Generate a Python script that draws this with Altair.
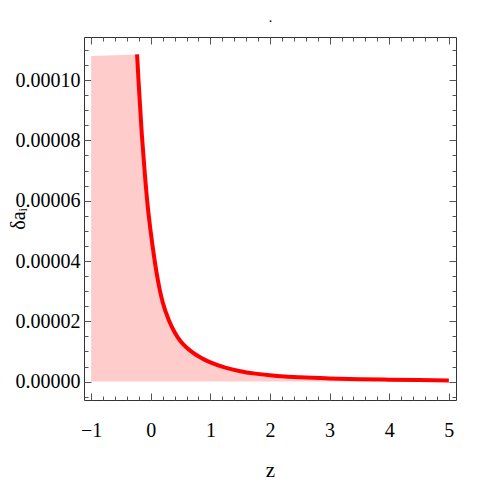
import altair as alt
import pandas as pd

# ---- data ----
z_curve = [-0.23, -0.2, -0.15, -0.1, -0.05, 0.0, 0.05, 0.1, 0.15, 0.2, 0.3, 0.4, 0.5,
           0.6, 0.7, 0.8, 0.9, 1.0, 1.25, 1.5, 1.75, 2.0, 2.25, 2.5, 3.0, 3.5, 4.0,
           4.5, 5.0]
da_curve = [108.5e-6, 98e-6, 82e-6, 69e-6, 58e-6, 49.5e-6, 42.2e-6, 35.8e-6, 30.5e-6,
            26.3e-6, 20.5e-6, 16.4e-6, 13.4e-6, 11.3e-6, 9.7e-6, 8.4e-6, 7.3e-6,
            6.4e-6, 4.65e-6, 3.45e-6, 2.65e-6, 2.08e-6, 1.68e-6, 1.42e-6, 1.06e-6,
            0.82e-6, 0.65e-6, 0.5e-6, 0.35e-6]
fill_z = [-1.0] + z_curve
fill_da = [108.0e-6] + da_curve

x_major = [-1, 0, 1, 2, 3, 4, 5]
x_minor = [round(-1 + 0.2 * i, 1) for i in range(31)]
y_major = [0.0, 2e-5, 4e-5, 6e-5, 8e-5, 1e-4]
y_minor = [round(-5e-6 + 5e-6 * i, 7) for i in range(24)]

curve = pd.DataFrame({"z": z_curve, "da": da_curve})
fill = pd.DataFrame({"z": fill_z, "da": fill_da})

W, H = 372, 363
FONT = "Liberation Serif"
xs = alt.Scale(domain=[-1.12, 5.12], nice=False, zero=False)
ys = alt.Scale(domain=[-6.1e-6, 1.143e-4], nice=False, zero=False)

TICK = "#555555"
FRAME = "#333333"


def tick_axis(orient, offset, values, size, domain=False):
    kw = dict(orient=orient, offset=offset, values=values, title="", labels=False,
              grid=False, ticks=True, tickSize=size, tickColor=TICK, tickWidth=1,
              domain=domain)
    if domain:
        kw.update(domainColor=FRAME, domainWidth=1)
    return alt.Axis(**kw)


# area with label axes (bottom + left frame)
area = alt.Chart(fill).mark_area(color="#FFCCCC", opacity=1).encode(
    x=alt.X("z:Q", scale=xs, axis=alt.Axis(
        orient="bottom", values=x_major, format="d", title="z", grid=False,
        ticks=False, tickSize=0, labelPadding=30, labelBaseline="middle",
        labelFontSize=20, labelFlush=False, labelOverlap=False,
        domain=True, domainColor=FRAME, domainWidth=1,
        titleFontSize=21, titleFontWeight="normal", titleY=70,
        titleBaseline="middle")),
    y=alt.Y("da:Q", scale=ys, axis=alt.Axis(
        orient="left", values=y_major, format=".5f", title="δaᵢ", grid=False,
        ticks=False, tickSize=0, labelPadding=4, labelFontSize=20,
        labelOverlap=False, labelFlush=False,
        domain=True, domainColor=FRAME, domainWidth=1,
        titleFontSize=20, titleFontWeight="normal", titleAngle=-90,
        titleX=-66, titleY=H / 2, titleBaseline="middle", titleAlign="center")),
)

line = alt.Chart(curve).mark_line(color="#FF0000", strokeWidth=4,
                                  interpolate="monotone").encode(
    x=alt.X("z:Q", scale=xs, axis=tick_axis("top", -H, x_major, 7)),
    y=alt.Y("da:Q", scale=ys, axis=tick_axis("right", -W, y_major, 7)),
)

minor_in = alt.Chart(curve).mark_point(opacity=0).encode(
    x=alt.X("z:Q", scale=xs, axis=tick_axis("top", -H, x_minor, 4)),
    y=alt.Y("da:Q", scale=ys, axis=tick_axis("right", -W, y_minor, 4)),
)

major_far = alt.Chart(curve).mark_point(opacity=0).encode(
    x=alt.X("z:Q", scale=xs, axis=tick_axis("bottom", -H, x_major, 7, domain=True)),
    y=alt.Y("da:Q", scale=ys, axis=tick_axis("left", -W, y_major, 7, domain=True)),
)

minor_far = alt.Chart(curve).mark_point(opacity=0).encode(
    x=alt.X("z:Q", scale=xs, axis=tick_axis("bottom", -H, x_minor, 4)),
    y=alt.Y("da:Q", scale=ys, axis=tick_axis("left", -W, y_minor, 4)),
)

dot = alt.Chart(curve).mark_point(opacity=0).encode(
    x=alt.X("z:Q", scale=xs, axis=alt.Axis(
        orient="top", title=".", labels=False, ticks=False, domain=False, grid=False,
        titleFontSize=14, titleFontWeight="normal", titleY=-16,
        titleBaseline="alphabetic")),
)

chart = alt.layer(area, line, minor_in, major_far, minor_far, dot).resolve_axis(
    x="independent", y="independent"
).properties(
    width=W, height=H,
    autosize=alt.AutoSizeParams(type="none"),
    padding={"left": 76, "top": 29, "right": 27, "bottom": 83},
    background="white",
).configure_axis(
    labelFont=FONT, titleFont=FONT, labelColor="black", titleColor="black",
).configure_view(stroke=None)

chart.save("out.html", embed_options={"renderer": "svg", "actions": False})
